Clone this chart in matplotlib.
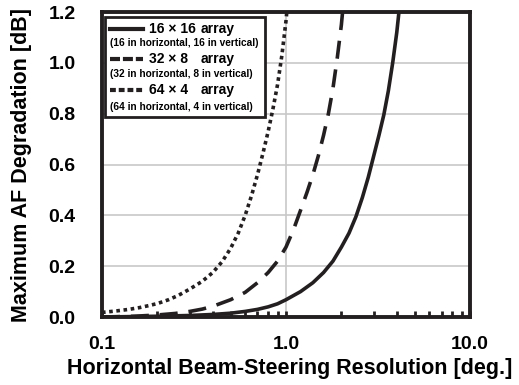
import matplotlib
matplotlib.use("Agg")
import matplotlib.pyplot as plt
from matplotlib.patches import Rectangle
from matplotlib.lines import Line2D
from matplotlib.ticker import NullFormatter

plt.rcParams['font.family'] = ['Liberation Sans', 'DejaVu Sans']
plt.rcParams['font.weight'] = 'bold'
plt.rcParams['axes.labelweight'] = 'bold'

# 16 x 16 array (solid)
x_16 = [0.10, 0.20, 0.30, 0.40, 0.50, 0.60, 0.70, 0.80, 0.90, 1.00, 1.20, 1.40,
        1.60, 1.80, 2.00, 2.20, 2.40, 2.60, 2.80, 3.00, 3.20, 3.40, 3.60, 3.80,
        4.00, 4.11]
y_16 = [0.000, 0.003, 0.006, 0.010, 0.015, 0.022, 0.030, 0.040, 0.052, 0.068,
        0.100, 0.135, 0.175, 0.220, 0.275, 0.330, 0.395, 0.470, 0.550, 0.635,
        0.715, 0.795, 0.890, 1.000, 1.120, 1.200]

# 32 x 8 array (dashed)
x_32 = [0.10, 0.15, 0.20, 0.25, 0.30, 0.35, 0.40, 0.50, 0.60, 0.70, 0.80, 0.90,
        1.00, 1.10, 1.20, 1.30, 1.40, 1.50, 1.60, 1.70, 1.80, 1.90, 2.00, 2.03]
y_32 = [0.000, 0.003, 0.008, 0.014, 0.022, 0.031, 0.042, 0.068, 0.097, 0.135,
        0.175, 0.220, 0.275, 0.345, 0.420, 0.490, 0.560, 0.635, 0.715, 0.800,
        0.900, 1.020, 1.150, 1.200]

# 64 x 4 array (dotted)
x_64 = [0.10, 0.12, 0.14, 0.16, 0.18, 0.20, 0.23, 0.26, 0.30, 0.35, 0.40, 0.45,
        0.50, 0.55, 0.60, 0.65, 0.70, 0.75, 0.80, 0.85, 0.90, 0.95, 1.00, 1.01]
y_64 = [0.018, 0.024, 0.030, 0.037, 0.045, 0.053, 0.068, 0.085, 0.110, 0.140,
        0.175, 0.218, 0.270, 0.330, 0.400, 0.478, 0.560, 0.645, 0.730, 0.820,
        0.915, 1.030, 1.165, 1.200]

x_ticks = [0.1, 1.0, 10.0]
x_tick_labels = ['0.1', '1.0', '10.0']
y_ticks = [0.0, 0.2, 0.4, 0.6, 0.8, 1.0, 1.2]
y_tick_labels = ['0.0', '0.2', '0.4', '0.6', '0.8', '1.0', '1.2']

ink = '#231f20'

fig = plt.figure(figsize=(5.19, 3.85), dpi=100)
ax = fig.add_axes([0.1965, 0.1766, 0.7091, 0.7922])

# кривые
ax.plot(x_16, y_16, color=ink, lw=2.6, solid_capstyle='butt')
ax.plot(x_32, y_32, color=ink, lw=2.6, linestyle=(0, (5, 3)), dash_capstyle='butt')
ax.plot(x_64, y_64, color=ink, lw=2.6, linestyle=(0, (1, 1)), dash_capstyle='butt')

ax.set_xscale('log')
ax.set_xlim(0.1, 10)
ax.set_ylim(0, 1.2)
ax.set_xticks(x_ticks)
ax.set_xticklabels(x_tick_labels)
ax.xaxis.set_minor_formatter(NullFormatter())
ax.set_yticks(y_ticks)
ax.set_yticklabels(y_tick_labels)

ax.tick_params(axis='x', which='both', direction='in', length=4, width=2,
               pad=14, labelsize=14, color=ink)
ax.tick_params(axis='y', length=0, pad=19, labelsize=14)

ax.grid(True, which='major', color='#c8c8c8', lw=1.2)
ax.set_axisbelow(True)
for s in ax.spines.values():
    s.set_linewidth(2.8)
    s.set_color(ink)

ax.set_xlabel('Horizontal Beam-Steering Resolution [deg.]', fontsize=15.5, fontweight='bold')
ax.set_ylabel('Maximum AF Degradation [dB]', fontsize=15.5, fontweight='bold')
ax.xaxis.set_label_coords(0.509, -0.134)
ax.yaxis.set_label_coords(-0.19, 0.5)

# легенда вручную
tr = ax.transAxes
ax.add_patch(Rectangle((0.008, 0.656), 0.435, 0.328, transform=tr,
                       facecolor='white', edgecolor=ink, lw=2, zorder=5))
rows = [
    ('16 × 16', '(16 in horizontal, 16 in vertical)', '-', 0.944, 0.897),
    ('32 × 8', '(32 in horizontal, 8 in vertical)', (0, (2.4, 0.7)), 0.845, 0.797),
    ('64 × 4', '(64 in horizontal, 4 in vertical)', (0, (1.4, 0.7)), 0.744, 0.690),
]
for name, sub, ls, y1, y2 in rows:
    ax.add_line(Line2D([0.022, 0.111], [y1, y1], transform=tr, color=ink,
                       lw=3, linestyle=ls, dash_capstyle='butt', zorder=6))
    ax.text(0.128, y1, name, transform=tr, fontsize=10, fontweight='bold',
            va='center', zorder=6)
    ax.text(0.269, y1, 'array', transform=tr, fontsize=10, fontweight='bold',
            va='center', zorder=6)
    ax.text(0.022, y2, sub, transform=tr, fontsize=7.3, fontweight='bold',
            va='center', zorder=6)

fig.savefig('out.png', dpi=100)
